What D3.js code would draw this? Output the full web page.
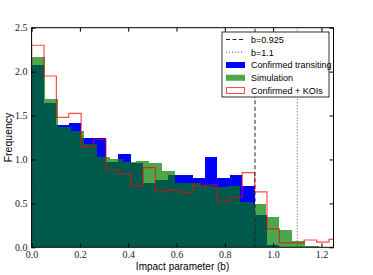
<!DOCTYPE html>
<html>
<head>
<meta charset="utf-8">
<script src="https://cdn.jsdelivr.net/npm/d3@7"></script>
<style>
  body { margin: 0; background: #fff; }
  .tick text { font-family: "Liberation Serif", serif; }
</style>
</head>
<body>
<div id="chart-area"></div>
<script>
// histogram bins (impact parameter); the simulation uses slightly wider bins
var binWidth = 0.0513;
var simBinWidth = 0.054;

var confirmed = [2.07, 1.64, 1.39, 1.41, 1.25, 1.25, 0.975, 1.06, 0.96, 0.735, 0.77, 0.82, 0.82, 0.785, 1.025, 0.785, 0.82, 0.70, 0.37, 0.03, 0, 0, 0, 0, 0];
var simulation = [2.17, 1.69, 1.37, 1.32, 1.18, 1.025, 1.00, 0.975, 0.98, 0.955, 0.87, 0.73, 0.73, 0.70, 0.69, 0.70, 0.52, 0.49, 0.35, 0.197, 0.07, 0.02, 0];
var withKOIs = [2.30, 1.95, 1.48, 1.525, 1.145, 1.23, 0.88, 0.835, 0.70, 0.906, 0.633, 0.65, 0.626, 0.70, 0.71, 0.52, 0.57, 0.85, 0.63, 0.21, 0.05, 0.05, 0.083, 0.06, 0.09];

var xTicks = [0.0, 0.2, 0.4, 0.6, 0.8, 1.0, 1.2];
var yTicks = [0.0, 0.5, 1.0, 1.5, 2.0, 2.5];
var cuts = [0.925, 1.1];

var width = 373, height = 275;
var margin = { left: 31.6, right: 39.5, top: 27.7, bottom: 27.7 };

var svg = d3.select("#chart-area").append("svg")
     .attr("width", width)
     .attr("height", height);

var x = d3.scaleLinear()
     .domain([0, 1.25])
     .range([margin.left, width - margin.right]);

var y = d3.scaleLinear()
     .domain([0, 2.5])
     .range([height - margin.bottom, margin.top]);

svg.append("defs").append("clipPath").attr("id", "plot")
     .append("rect")
     .attr("x", x(0)).attr("y", y(2.5))
     .attr("width", x(1.25) - x(0)).attr("height", y(0) - y(2.5));

var plot = svg.append("g").attr("clip-path", "url(#plot)");

function bars(values, w, fill, opacity) {
     plot.append("g").selectAll("rect")
          .data(values)
          .enter()
          .append("rect")
          .attr("x", (d, i) => { return x(i * w); })
          .attr("width", (d, i) => { return x((i + 1) * w) - x(i * w); })
          .attr("y", (d) => { return y(d); })
          .attr("height", (d) => { return y(0) - y(d); })
          .attr("fill", fill)
          .attr("fill-opacity", opacity)
          .attr("shape-rendering", "crispEdges");
}

bars(confirmed, binWidth, "#0000ff", 1);
bars(simulation, simBinWidth, "#008000", 0.7);

// step outline for confirmed + KOIs
var stepPts = [];
withKOIs.forEach((d, i) => {
     stepPts.push([i * binWidth, d]);
     stepPts.push([(i + 1) * binWidth, d]);
});
stepPts.unshift([0, 0]);
stepPts.push([withKOIs.length * binWidth, 0]);

plot.append("path")
     .datum(stepPts)
     .attr("d", d3.line().x((d) => { return x(d[0]); }).y((d) => { return y(d[1]); }))
     .attr("fill", "none")
     .attr("stroke", "#ff0000")
     .attr("stroke-opacity", 0.7)
     .attr("stroke-width", 1.2);

// cut lines
plot.append("line")
     .attr("x1", x(cuts[0])).attr("x2", x(cuts[0]))
     .attr("y1", y(0)).attr("y2", y(2.5))
     .attr("stroke", "#222").attr("stroke-width", 1)
     .attr("stroke-dasharray", "4,2.5");

plot.append("line")
     .attr("x1", x(cuts[1])).attr("x2", x(cuts[1]))
     .attr("y1", y(0)).attr("y2", y(2.5))
     .attr("stroke", "#555").attr("stroke-width", 1)
     .attr("stroke-dasharray", "1,2");

// axes, ticks inside on all four sides
var fmt = d3.format(".1f");
svg.append("g")
     .attr("transform", "translate(0," + y(0) + ")")
     .call(d3.axisBottom(x).tickValues(xTicks).tickFormat(fmt).tickSizeInner(-4).tickSizeOuter(0).tickPadding(3.5))
     .call((g) => g.select(".domain").remove());
svg.append("g")
     .attr("transform", "translate(0," + y(2.5) + ")")
     .call(d3.axisTop(x).tickValues(xTicks).tickFormat("").tickSizeInner(-4).tickSizeOuter(0))
     .call((g) => g.select(".domain").remove());
svg.append("g")
     .attr("transform", "translate(" + x(0) + ",0)")
     .call(d3.axisLeft(y).tickValues(yTicks).tickFormat(fmt).tickSizeInner(-4).tickSizeOuter(0).tickPadding(4))
     .call((g) => g.select(".domain").remove());
svg.append("g")
     .attr("transform", "translate(" + x(1.25) + ",0)")
     .call(d3.axisRight(y).tickValues(yTicks).tickFormat("").tickSizeInner(-4).tickSizeOuter(0))
     .call((g) => g.select(".domain").remove());

svg.selectAll(".tick text").attr("font-size", 10).attr("fill", "#222");

svg.append("rect")
     .attr("x", x(0)).attr("y", y(2.5))
     .attr("width", x(1.25) - x(0)).attr("height", y(0) - y(2.5))
     .attr("fill", "none").attr("stroke", "#000").attr("stroke-width", 1);

svg.append("text")
     .attr("x", (x(0) + x(1.25)) / 2).attr("y", 270)
     .attr("text-anchor", "middle")
     .attr("font-family", "Liberation Sans, Arial, sans-serif")
     .attr("font-size", 10)
     .text("Impact parameter (b)");

svg.append("text")
     .attr("transform", "translate(12," + ((y(0) + y(2.5)) / 2) + ") rotate(-90)")
     .attr("text-anchor", "middle")
     .attr("font-family", "Liberation Sans, Arial, sans-serif")
     .attr("font-size", 10.5)
     .text("Frequency");

// legend
var legend = svg.append("g").attr("transform", "translate(222,32)");
legend.append("rect")
     .attr("width", 107).attr("height", 65)
     .attr("fill", "#fff").attr("stroke", "#000").attr("stroke-width", 0.8);

var legendItems = ["b=0.925", "b=1.1", "Confirmed transiting", "Simulation", "Confirmed + KOIs"];
var rowY = d3.scalePoint().domain(legendItems).range([7.5, 58.5]);

legend.selectAll("text.lab")
     .data(legendItems)
     .enter()
     .append("text")
     .attr("class", "lab")
     .attr("x", 29)
     .attr("y", (d) => { return rowY(d) + 3.3; })
     .attr("font-family", "Liberation Sans, Arial, sans-serif")
     .attr("font-size", 9)
     .text((d) => { return d; });

legend.append("line")
     .attr("x1", 4).attr("x2", 21).attr("y1", rowY(legendItems[0])).attr("y2", rowY(legendItems[0]))
     .attr("stroke", "#222").attr("stroke-dasharray", "4,2.5");
legend.append("line")
     .attr("x1", 4).attr("x2", 21).attr("y1", rowY(legendItems[1])).attr("y2", rowY(legendItems[1]))
     .attr("stroke", "#555").attr("stroke-dasharray", "1,2");
legend.append("rect")
     .attr("x", 4).attr("y", rowY(legendItems[2]) - 3).attr("width", 19).attr("height", 6)
     .attr("fill", "#0000ff");
legend.append("rect")
     .attr("x", 4).attr("y", rowY(legendItems[3]) - 3).attr("width", 19).attr("height", 6)
     .attr("fill", "#008000").attr("fill-opacity", 0.7);
legend.append("rect")
     .attr("x", 4.5).attr("y", rowY(legendItems[4]) - 3).attr("width", 18).attr("height", 6)
     .attr("fill", "none").attr("stroke", "#ff0000").attr("stroke-opacity", 0.7);
</script>
</body>
</html>
